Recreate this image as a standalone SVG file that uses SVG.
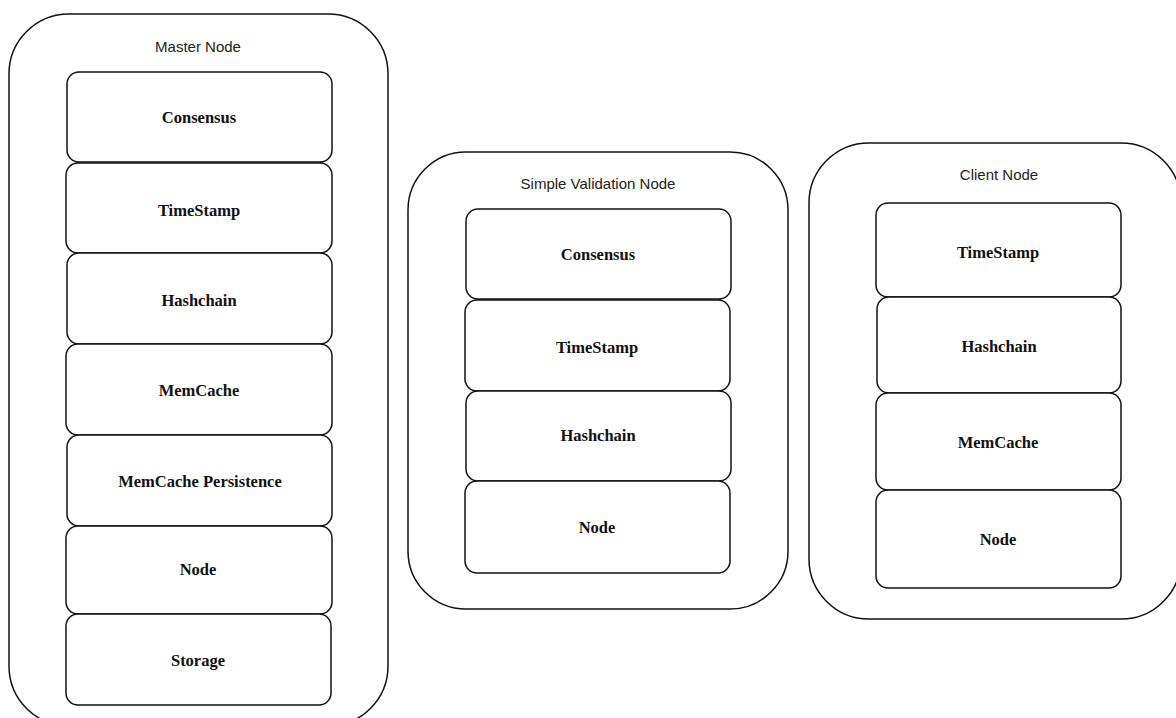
<svg xmlns="http://www.w3.org/2000/svg" width="1176" height="718" viewBox="0 0 1176 718">
<style>
.outer{fill:none;stroke:#111;stroke-width:1.5}
.box{fill:#fff;stroke:#111;stroke-width:1.5}
.title{font-family:"Liberation Sans",Arial,sans-serif;font-size:15px;fill:#222;text-anchor:middle}
.lbl{font-family:"Liberation Serif","Times New Roman",serif;font-size:16.5px;font-weight:bold;fill:#111;text-anchor:middle;dominant-baseline:central}
</style>
<rect width="1176" height="718" fill="#fff"/>
<g id="master">
<rect class="outer" x="9" y="14" width="379" height="712" rx="60" ry="60"/>
<text class="title" x="198" y="52">Master Node</text>
<g id="m-consensus"><rect class="box" x="67" y="72" width="265" height="90" rx="12"/><text class="lbl" x="199" y="117">Consensus</text></g>
<g id="m-timestamp"><rect class="box" x="66" y="163" width="266" height="90" rx="12"/><text class="lbl" x="199" y="210">TimeStamp</text></g>
<g id="m-hashchain"><rect class="box" x="67" y="253" width="265" height="91" rx="12"/><text class="lbl" x="199" y="300">Hashchain</text></g>
<g id="m-memcache"><rect class="box" x="66" y="344" width="266" height="91" rx="12"/><text class="lbl" x="199" y="390">MemCache</text></g>
<g id="m-persist"><rect class="box" x="67" y="435" width="265" height="91" rx="12"/><text class="lbl" x="200" y="481">MemCache Persistence</text></g>
<g id="m-node"><rect class="box" x="66" y="526" width="266" height="88" rx="12"/><text class="lbl" x="198" y="569">Node</text></g>
<g id="m-storage"><rect class="box" x="66" y="614" width="265" height="91" rx="12"/><text class="lbl" x="198" y="660">Storage</text></g>
</g>
<g id="validation">
<rect class="outer" x="408" y="152" width="380" height="457" rx="58" ry="58"/>
<text class="title" x="598" y="189">Simple Validation Node</text>
<g id="v-consensus"><rect class="box" x="466" y="209" width="265" height="90" rx="12"/><text class="lbl" x="598" y="254">Consensus</text></g>
<g id="v-timestamp"><rect class="box" x="465" y="300" width="265" height="91" rx="12"/><text class="lbl" x="597" y="347">TimeStamp</text></g>
<g id="v-hashchain"><rect class="box" x="466" y="391" width="265" height="90" rx="12"/><text class="lbl" x="598" y="435">Hashchain</text></g>
<g id="v-node"><rect class="box" x="465" y="481" width="265" height="92" rx="12"/><text class="lbl" x="597" y="527">Node</text></g>
</g>
<g id="client">
<rect class="outer" x="809" y="143" width="372" height="476" rx="60" ry="60"/>
<text class="title" x="999" y="180">Client Node</text>
<g id="c-timestamp"><rect class="box" x="876" y="203" width="245" height="94" rx="12"/><text class="lbl" x="998" y="252">TimeStamp</text></g>
<g id="c-hashchain"><rect class="box" x="877" y="297" width="244" height="96" rx="12"/><text class="lbl" x="999" y="346">Hashchain</text></g>
<g id="c-memcache"><rect class="box" x="876" y="393" width="245" height="97" rx="12"/><text class="lbl" x="998" y="442">MemCache</text></g>
<g id="c-node"><rect class="box" x="876" y="490" width="245" height="98" rx="12"/><text class="lbl" x="998" y="539">Node</text></g>
</g>
<g id="connectors"></g>
</svg>
